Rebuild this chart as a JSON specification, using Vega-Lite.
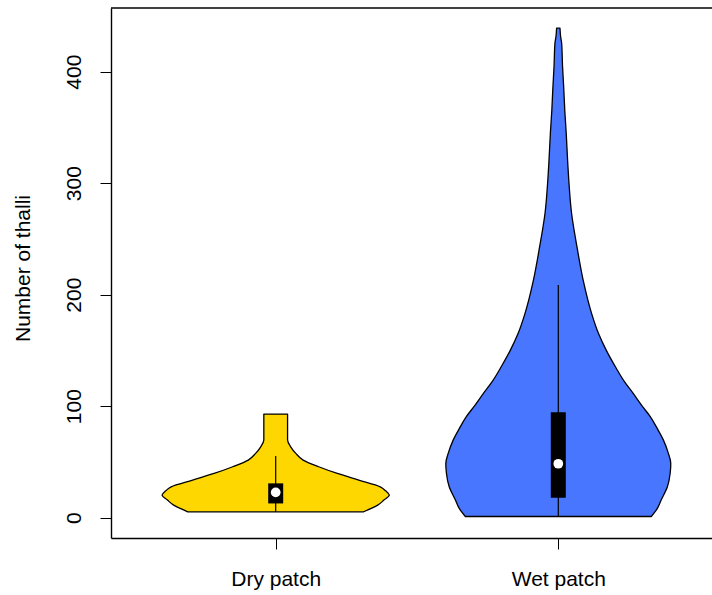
{
  "$schema": "https://vega.github.io/schema/vega-lite/v6.json",
  "autosize": {"type": "none"},
  "padding": {"left": 111, "top": 8, "right": 0, "bottom": 57},
  "width": 601,
  "height": 530,
  "background": "white",
  "config": {
    "view": {"stroke": null},
    "font": "Liberation Sans",
    "axis": {
      "domainColor": "black",
      "domainWidth": 1.4,
      "tickColor": "black",
      "tickWidth": 1,
      "tickSize": 11,
      "grid": false,
      "labelColor": "black",
      "labelFont": "Liberation Sans",
      "labelFontSize": 21,
      "titleColor": "black",
      "titleFont": "Liberation Sans",
      "titleFontSize": 21,
      "titleFontWeight": "normal"
    }
  },
  "datasets": {
    "violin": [
      {"group": "Dry patch", "value": 5.2, "lo": 0.689, "hi": 1.311},
      {"group": "Dry patch", "value": 8, "lo": 0.664, "hi": 1.336},
      {"group": "Dry patch", "value": 11.2, "lo": 0.639, "hi": 1.361},
      {"group": "Dry patch", "value": 15.7, "lo": 0.617, "hi": 1.383},
      {"group": "Dry patch", "value": 20.2, "lo": 0.598, "hi": 1.402},
      {"group": "Dry patch", "value": 24, "lo": 0.611, "hi": 1.389},
      {"group": "Dry patch", "value": 27.6, "lo": 0.63, "hi": 1.37},
      {"group": "Dry patch", "value": 33.6, "lo": 0.706, "hi": 1.294},
      {"group": "Dry patch", "value": 39.6, "lo": 0.782, "hi": 1.218},
      {"group": "Dry patch", "value": 45.6, "lo": 0.848, "hi": 1.152},
      {"group": "Dry patch", "value": 51.6, "lo": 0.903, "hi": 1.097},
      {"group": "Dry patch", "value": 57.6, "lo": 0.929, "hi": 1.071},
      {"group": "Dry patch", "value": 63.5, "lo": 0.947, "hi": 1.053},
      {"group": "Dry patch", "value": 69.5, "lo": 0.958, "hi": 1.042},
      {"group": "Dry patch", "value": 75, "lo": 0.958, "hi": 1.042},
      {"group": "Dry patch", "value": 92.9, "lo": 0.958, "hi": 1.042},
      {"group": "Wet patch", "value": 1, "lo": 1.671, "hi": 2.329},
      {"group": "Wet patch", "value": 8, "lo": 1.65, "hi": 2.35},
      {"group": "Wet patch", "value": 15.7, "lo": 1.636, "hi": 2.364},
      {"group": "Wet patch", "value": 27.6, "lo": 1.614, "hi": 2.386},
      {"group": "Wet patch", "value": 40, "lo": 1.604, "hi": 2.396},
      {"group": "Wet patch", "value": 48.6, "lo": 1.602, "hi": 2.398},
      {"group": "Wet patch", "value": 58, "lo": 1.611, "hi": 2.389},
      {"group": "Wet patch", "value": 69.5, "lo": 1.628, "hi": 2.372},
      {"group": "Wet patch", "value": 80, "lo": 1.65, "hi": 2.35},
      {"group": "Wet patch", "value": 90.4, "lo": 1.674, "hi": 2.326},
      {"group": "Wet patch", "value": 100, "lo": 1.703, "hi": 2.297},
      {"group": "Wet patch", "value": 111.4, "lo": 1.735, "hi": 2.265},
      {"group": "Wet patch", "value": 122, "lo": 1.766, "hi": 2.234},
      {"group": "Wet patch", "value": 135.3, "lo": 1.798, "hi": 2.202},
      {"group": "Wet patch", "value": 150, "lo": 1.83, "hi": 2.17},
      {"group": "Wet patch", "value": 165.3, "lo": 1.858, "hi": 2.142},
      {"group": "Wet patch", "value": 183, "lo": 1.882, "hi": 2.118},
      {"group": "Wet patch", "value": 213, "lo": 1.912, "hi": 2.088},
      {"group": "Wet patch", "value": 243, "lo": 1.934, "hi": 2.066},
      {"group": "Wet patch", "value": 273, "lo": 1.953, "hi": 2.047},
      {"group": "Wet patch", "value": 303, "lo": 1.963, "hi": 2.037},
      {"group": "Wet patch", "value": 320, "lo": 1.967, "hi": 2.033},
      {"group": "Wet patch", "value": 345, "lo": 1.972, "hi": 2.028},
      {"group": "Wet patch", "value": 365, "lo": 1.977, "hi": 2.023},
      {"group": "Wet patch", "value": 386.5, "lo": 1.981, "hi": 2.019},
      {"group": "Wet patch", "value": 405, "lo": 1.985, "hi": 2.015},
      {"group": "Wet patch", "value": 425, "lo": 1.988, "hi": 2.012},
      {"group": "Wet patch", "value": 432, "lo": 1.992, "hi": 2.008},
      {"group": "Wet patch", "value": 439, "lo": 1.994, "hi": 2.006}
    ],
    "summary": [
      {"group": "Dry patch", "pos": 1, "wmin": 5.2, "q1": 12.7, "median": 22.6, "q3": 30.7, "wmax": 55.2},
      {"group": "Wet patch", "pos": 2, "wmin": 1, "q1": 17.8, "median": 48.3, "q3": 94.4, "wmax": 208.6}
    ]
  },
  "layer": [
    {
      "data": {"name": "violin"},
      "mark": {"type": "area", "orient": "horizontal", "interpolate": "monotone", "stroke": "black", "strokeWidth": 1.3, "fillOpacity": 1, "strokeJoin": "round"},
      "encoding": {
        "y": {
          "field": "value", "type": "quantitative",
          "scale": {"domain": [-18.3, 457.1], "nice": false, "zero": false},
          "axis": {
            "values": [0, 100, 200, 300, 400],
            "title": "Number of thalli",
            "labelAngle": 270,
            "labelAlign": "center",
            "labelBaseline": "alphabetic",
            "labelPadding": 20,
            "titleAngle": 270,
            "titleAlign": "center",
            "titleBaseline": "alphabetic",
            "titleX": -82,
            "titleY": 260
          }
        },
        "x": {
          "field": "lo", "type": "quantitative",
          "scale": {"domain": [0.4172, 2.5439], "nice": false, "zero": false},
          "axis": {
            "values": [1, 2],
            "title": null,
            "labelExpr": "datum.value == 1 ? 'Dry patch' : 'Wet patch'",
            "labelBaseline": "alphabetic",
            "labelPadding": 36
          }
        },
        "x2": {"field": "hi"},
        "fill": {
          "field": "group", "type": "nominal",
          "scale": {"domain": ["Dry patch", "Wet patch"], "range": ["#FFD700", "#4876FF"]},
          "legend": null
        }
      }
    },
    {
      "data": {"name": "summary"},
      "mark": {"type": "rule", "color": "black", "strokeWidth": 1.2},
      "encoding": {
        "x": {"field": "pos", "type": "quantitative"},
        "y": {"field": "wmin", "type": "quantitative"},
        "y2": {"field": "wmax"}
      }
    },
    {
      "data": {"name": "summary"},
      "mark": {"type": "rule", "color": "black", "strokeWidth": 15, "strokeCap": "butt"},
      "encoding": {
        "x": {"field": "pos", "type": "quantitative"},
        "y": {"field": "q1", "type": "quantitative"},
        "y2": {"field": "q3"}
      }
    },
    {
      "data": {"name": "summary"},
      "mark": {"type": "point", "shape": "circle", "filled": true, "color": "white", "opacity": 1, "size": 95},
      "encoding": {
        "x": {"field": "pos", "type": "quantitative"},
        "y": {"field": "median", "type": "quantitative"}
      }
    },
    {
      "data": {"values": [{"edge": 457.1}]},
      "mark": {"type": "rule", "color": "black", "strokeWidth": 1.4},
      "encoding": {
        "y": {"field": "edge", "type": "quantitative"}
      }
    }
  ]
}
